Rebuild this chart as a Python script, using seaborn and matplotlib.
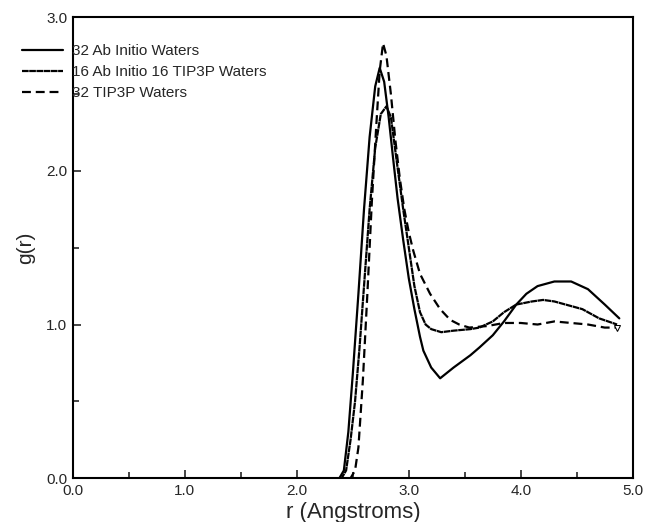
"""
Radial distribution function g(r) for water models.
"""
import numpy as np
import pandas as pd
import matplotlib
matplotlib.use('Agg')
import matplotlib.pyplot as plt
import seaborn as sns
from matplotlib.ticker import MultipleLocator, FormatStrFormatter

# --- data ---
r_abinitio = [0.0, 2.38, 2.42, 2.46, 2.50, 2.55, 2.60, 2.65, 2.70, 2.74, 2.78,
              2.82, 2.86, 2.90, 2.95, 3.00, 3.05, 3.10, 3.13, 3.20, 3.28, 3.40,
              3.55, 3.63, 3.75, 3.85, 3.96, 4.05, 4.15, 4.30, 4.45, 4.60, 4.75, 4.88]
g_abinitio = [0.0, 0.0, 0.05, 0.30, 0.68, 1.20, 1.75, 2.22, 2.55, 2.67, 2.58,
              2.35, 2.08, 1.82, 1.55, 1.30, 1.10, 0.92, 0.83, 0.72, 0.65, 0.72,
              0.80, 0.85, 0.93, 1.02, 1.13, 1.20, 1.25, 1.28, 1.28, 1.23, 1.13, 1.04]

r_mixed = [0.0, 2.40, 2.44, 2.48, 2.52, 2.56, 2.60, 2.65, 2.70, 2.75, 2.80,
           2.84, 2.90, 2.95, 3.00, 3.05, 3.10, 3.15, 3.20, 3.29, 3.40, 3.55,
           3.63, 3.75, 3.85, 3.96, 4.10, 4.20, 4.30, 4.40, 4.55, 4.70, 4.86]
g_mixed = [0.0, 0.0, 0.05, 0.25, 0.50, 0.85, 1.25, 1.75, 2.15, 2.37, 2.42,
           2.35, 2.02, 1.75, 1.50, 1.25, 1.08, 1.00, 0.97, 0.95, 0.96, 0.97,
           0.98, 1.02, 1.08, 1.13, 1.15, 1.16, 1.15, 1.13, 1.10, 1.04, 1.00]

r_tip3p = [0.0, 2.48, 2.52, 2.55, 2.59, 2.63, 2.67, 2.71, 2.74, 2.77, 2.80,
           2.84, 2.88, 2.92, 2.96, 3.00, 3.04, 3.10, 3.19, 3.28, 3.37, 3.45,
           3.54, 3.70, 3.85, 4.00, 4.15, 4.30, 4.45, 4.60, 4.75, 4.86]
g_tip3p = [0.0, 0.0, 0.05, 0.20, 0.64, 1.20, 1.80, 2.30, 2.65, 2.83, 2.75,
           2.50, 2.20, 1.95, 1.75, 1.60, 1.48, 1.33, 1.20, 1.10, 1.03, 1.00,
           0.98, 0.99, 1.01, 1.01, 1.00, 1.02, 1.01, 1.00, 0.98, 0.98]

labels = ['32 Ab Initio Waters', '16 Ab Initio 16 TIP3P Waters', '32 TIP3P Waters']

sns.set_style('ticks')
plt.rcParams['font.family'] = ['Liberation Sans', 'DejaVu Sans']

fig = plt.figure(figsize=(6.45, 5.22), dpi=100)
ax = fig.add_axes([0.113, 0.084, 0.868, 0.883])

df_a = pd.DataFrame({'r': r_abinitio, 'g': g_abinitio})
df_m = pd.DataFrame({'r': r_mixed, 'g': g_mixed})
df_t = pd.DataFrame({'r': r_tip3p, 'g': g_tip3p})

sns.lineplot(data=df_a, x='r', y='g', color='black', lw=1.6,
             linestyle='-', label=labels[0], ax=ax)
sns.lineplot(data=df_m, x='r', y='g', color='black', lw=1.6,
             linestyle=(0, (3, 0.25)), label=labels[1], ax=ax)
sns.lineplot(data=df_t, x='r', y='g', color='black', lw=1.6,
             linestyle=(0, (4, 2.2)), label=labels[2], ax=ax,
             marker='v', markevery=[len(r_tip3p) - 1], markersize=5,
             markerfacecolor='white', markeredgecolor='black')

ax.set_xlim(0, 5)
ax.set_ylim(0, 3)
ax.xaxis.set_major_locator(MultipleLocator(1.0))
ax.xaxis.set_minor_locator(MultipleLocator(0.5))
ax.yaxis.set_major_locator(MultipleLocator(1.0))
ax.yaxis.set_minor_locator(MultipleLocator(0.5))
ax.xaxis.set_major_formatter(FormatStrFormatter('%.1f'))
ax.yaxis.set_major_formatter(FormatStrFormatter('%.1f'))
ax.tick_params(which='both', direction='in', width=1.2, labelsize=11, pad=4)
ax.tick_params(which='major', length=6)
ax.tick_params(which='minor', length=4)
for s in ax.spines.values():
    s.set_linewidth(1.5)
    s.set_color('black')

ax.set_xlabel('r (Angstroms)', fontsize=16, labelpad=3)
ax.set_ylabel('g(r)', fontsize=15, labelpad=8)

leg = ax.legend(loc='upper left', bbox_to_anchor=(0.034, 0.915),
                bbox_transform=fig.transFigure, frameon=False, fontsize=11,
                handlelength=2.7, handletextpad=0.55, labelspacing=0.45,
                borderaxespad=0, borderpad=0)
for h in leg.get_lines():
    h.set_marker('')

plt.savefig('out.png', dpi=100)
plt.close()
